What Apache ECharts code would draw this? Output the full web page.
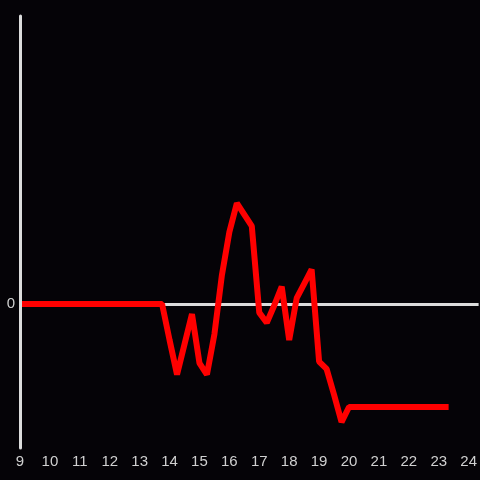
<!DOCTYPE html>
<html>
<head>
<meta charset="utf-8">
<script src="https://cdn.jsdelivr.net/npm/echarts@6/dist/echarts.min.js"></script>
<style>
  html, body { margin: 0; padding: 0; background: #050307; }
  #chart { width: 480px; height: 480px; }
</style>
</head>
<body>
<div id="chart"></div>
<script>
// hours of day (x) and signal values (y)
const hours = [9, 13.75, 14, 14.25, 14.5, 14.75, 15, 15.25, 15.5, 15.75, 16, 16.25, 16.5, 16.75,
  17, 17.25, 17.5, 17.75, 18, 18.25, 18.5, 18.75, 19, 19.25, 19.5, 19.75, 20, 23.33];
const values = [0, 0, -0.25, -0.49, -0.28, -0.07, -0.41, -0.49, -0.21, 0.2, 0.5, 0.7, 0.62, 0.54,
  -0.06, -0.13, -0.01, 0.12, -0.25, 0.04, 0.14, 0.24, -0.4, -0.45, -0.63, -0.82, -0.715, -0.715];
const xTicks = [9, 10, 11, 12, 13, 14, 15, 16, 17, 18, 19, 20, 21, 22, 23, 24];

const chart = echarts.init(document.getElementById("chart"), null, { renderer: "canvas" });
const axisGrey = "#dcdcdc";
const labelGrey = "#d0d0d0";

chart.setOption({
  animation: false,
  backgroundColor: "#050307",
  grid: { left: 20, right: 0, top: 16, bottom: 32 },
  xAxis: {
    type: "value",
    min: 9,
    max: 24.333,
    interval: 1,
    axisLine: { show: false, onZero: false },
    axisTick: { show: false },
    splitLine: { show: false },
    axisLabel: {
      color: labelGrey,
      fontSize: 15,
      fontFamily: "Liberation Sans, Arial, sans-serif",
      margin: 6,
      showMaxLabel: false,
      formatter: (v) => (xTicks.includes(v) ? String(v) : ""),
    },
  },
  yAxis: {
    type: "value",
    min: -1,
    max: 2,
    interval: 1,
    z: 5,
    axisLine: { show: true, lineStyle: { color: axisGrey, width: 3 } },
    axisTick: { show: false },
    splitLine: { show: false },
    axisLabel: {
      color: labelGrey,
      fontSize: 15,
      fontFamily: "Liberation Sans, Arial, sans-serif",
      margin: 5,
      formatter: (v) => (v === 0 ? "0" : ""),
    },
  },
  series: [
    {
      type: "line",
      data: [],
      z: 1,
      markLine: {
        silent: true,
        z: 1,
        symbol: ["none", "none"],
        label: { show: false },
        lineStyle: { color: axisGrey, width: 3, type: "solid" },
        data: [{ yAxis: 0 }],
      },
    },
    {
      type: "line",
      z: 3,
      data: hours.map((h, i) => [h, values[i]]),
      showSymbol: false,
      lineStyle: { color: "#ff0000", width: 6 },
    },
  ],
});
</script>
</body>
</html>
